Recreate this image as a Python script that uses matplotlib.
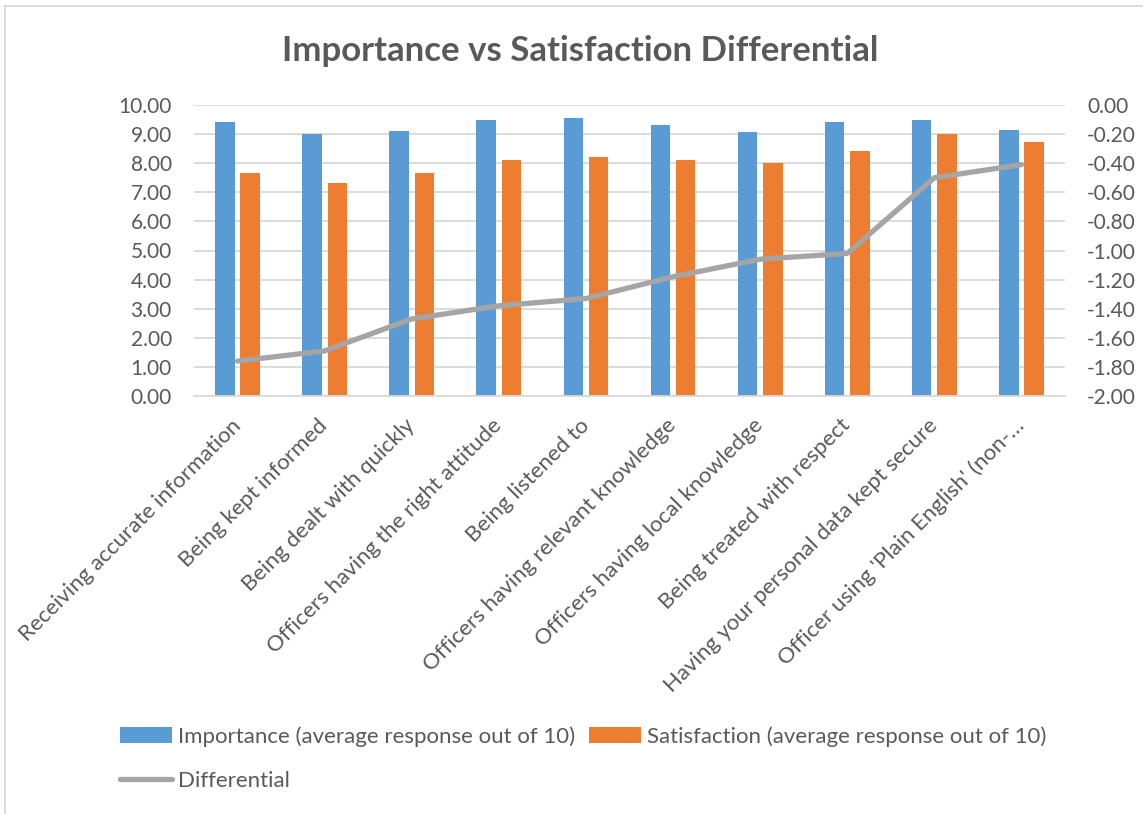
import matplotlib
matplotlib.use("Agg")
import matplotlib.pyplot as plt
import numpy as np
from matplotlib.patches import Patch
from matplotlib.lines import Line2D

categories = [
    "Receiving accurate information",
    "Being kept informed",
    "Being dealt with quickly",
    "Officers having the right attitude",
    "Being listened to",
    "Officers having relevant knowledge",
    "Officers having local knowledge",
    "Being treated with respect",
    "Having your personal data kept secure",
    "Officer using 'Plain English' (non-\u2026",
]
importance = [9.43, 9.00, 9.12, 9.49, 9.55, 9.31, 9.07, 9.42, 9.50, 9.15]
satisfaction = [7.68, 7.31, 7.65, 8.10, 8.22, 8.12, 8.01, 8.42, 9.01, 8.74]
differential = [-1.76, -1.69, -1.47, -1.38, -1.33, -1.18, -1.06, -1.02, -0.50, -0.41]

left_ticks = np.arange(0, 10.01, 1.0)
right_ticks = np.arange(-2.0, 0.001, 0.2)

BLUE = "#5B9BD5"
ORANGE = "#ED7D31"
GRAY = "#A5A5A5"
TEXT = "#595959"
GRID = "#D9D9D9"

plt.rcParams["font.family"] = ["Lato", "DejaVu Sans"]

W, H = 1143, 814
fig = plt.figure(figsize=(W / 100, H / 100), dpi=100)

def fx(px):
    return px / W

def fy(py):
    return 1 - py / H

def fmt(v):
    v = 0.0 if abs(v) < 1e-9 else v
    return f"{v:.2f}"

ax = fig.add_axes([fx(194), fy(396), fx(1065) - fx(194), fy(105) - fy(396)])
x = np.arange(len(categories))
bw = 0.224
off = 0.145
ax.bar(x - off, importance, width=bw, color=BLUE, zorder=2)
ax.bar(x + off, satisfaction, width=bw, color=ORANGE, zorder=2)
ax.set_xlim(-0.5, len(categories) - 0.5)
ax.set_ylim(0, 10)
ax.set_yticks(left_ticks)
ax.set_yticklabels([fmt(v) for v in left_ticks])
ax.grid(axis="y", color=GRID, linewidth=1.3, zorder=0)
ax.set_axisbelow(True)
for s in ["top", "right", "left"]:
    ax.spines[s].set_visible(False)
ax.spines["bottom"].set_color(GRID)
ax.spines["bottom"].set_linewidth(1.3)
ax.tick_params(axis="y", length=0, pad=16, labelsize=15, labelcolor=TEXT)
ax.tick_params(axis="x", length=0, pad=19, labelsize=16, labelcolor=TEXT)
ax.set_xticks(x)
ax.set_xticklabels(categories, rotation=45, ha="right", va="center", rotation_mode="anchor")

ax2 = ax.twinx()
ax2.plot(x, differential, color=GRAY, linewidth=3.8, solid_capstyle="round",
         solid_joinstyle="round", zorder=3)
ax2.set_ylim(-2, 0)
ax2.set_yticks(right_ticks)
ax2.set_yticklabels([fmt(v) for v in right_ticks])
for s in ax2.spines.values():
    s.set_visible(False)
ax2.tick_params(axis="y", length=0, pad=16, labelsize=15, labelcolor=TEXT)

fig.text(0.508, fy(51), "Importance vs Satisfaction Differential", ha="center", va="center",
         fontsize=25, fontweight="bold", color=TEXT)

handles = [
    Patch(facecolor=BLUE, edgecolor="none"),
    Line2D([0], [0], color=GRAY, linewidth=3.8, solid_capstyle="round"),
    Patch(facecolor=ORANGE, edgecolor="none"),
]
labels = [
    "Importance (average response out of 10)",
    "Differential",
    "Satisfaction (average response out of 10)",
]
leg = fig.legend(handles, labels, ncol=2, loc="upper left",
                 bbox_to_anchor=(fx(120), fy(726)), frameon=False,
                 borderaxespad=0, borderpad=0, handlelength=2.35, handleheight=0.7,
                 handletextpad=0.27, columnspacing=0.6, labelspacing=1.1,
                 fontsize=16, labelcolor=TEXT)

fig.add_artist(Line2D([fx(5), fx(5)], [fy(6), 0], color=GRID, linewidth=1.3))
fig.add_artist(Line2D([fx(5), 1], [fy(6), fy(6)], color=GRID, linewidth=1.3))

fig.savefig("out.png", dpi=100)
